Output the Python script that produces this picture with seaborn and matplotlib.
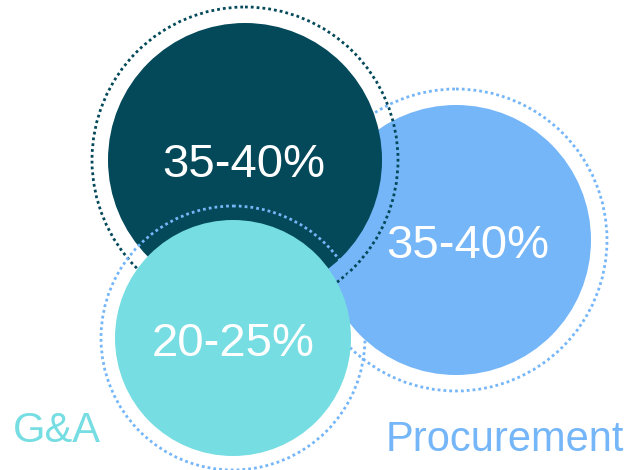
import matplotlib
matplotlib.use("Agg")
import matplotlib.pyplot as plt
from matplotlib.patches import Circle
import seaborn as sns

sns.set_theme(style="white")
plt.rcParams['font.family'] = ['Liberation Sans', 'DejaVu Sans']

# Data
segments = ["Direct", "Procurement", "G&A"]
share_labels = ["35-40%", "35-40%", "20-25%"]
category_labels = ["", "Procurement", "G&A"]
fill_colors = ["#03495A", "#75B6F8", "#76DDE2"]
ring_colors = ["#03495A", "#75B6F8", "#75B6F8"]

# Layout (pixel space)
centers = [(245, 160), (456, 240), (233, 338)]
radii = [137, 135, 118]
ring_radii = [153, 151, 132]
draw_order = [1, 0, 2]
label_pos = [(244, 177), (468, 258), (233, 356)]
cat_pos = [(0, 0), (386, 451), (13, 442)]

W, H = 633, 470
fig = plt.figure(figsize=(W / 100, H / 100), dpi=100)
ax = fig.add_axes([0, 0, 1, 1])
ax.set_xlim(0, W)
ax.set_ylim(H, 0)
ax.set_aspect('equal')
ax.axis('off')

z = 1
for i in draw_order:
    cx, cy = centers[i]
    ax.add_patch(Circle((cx, cy), radii[i], facecolor=fill_colors[i],
                        edgecolor='none', zorder=z))
    ax.add_patch(Circle((cx, cy), ring_radii[i], fill=False,
                        edgecolor=ring_colors[i], linewidth=2.0,
                        linestyle=(0, (1, 1.1)), zorder=z + 1))
    z += 2

for i in range(len(segments)):
    x, y = label_pos[i]
    ax.text(x, y, share_labels[i], color='white', fontsize=34,
            ha='center', va='baseline', zorder=20)
    if category_labels[i]:
        x, y = cat_pos[i]
        ax.text(x, y, category_labels[i], color=fill_colors[i],
                fontsize=30, ha='left', va='baseline', zorder=20)

fig.savefig("out.png", dpi=100)
